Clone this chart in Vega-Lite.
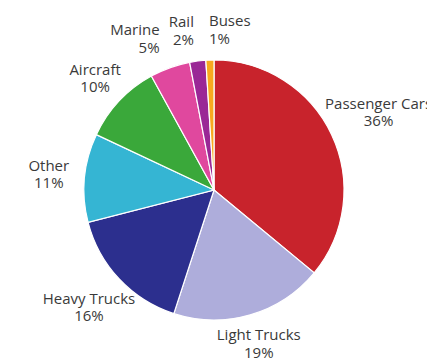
{
  "$schema": "https://vega.github.io/schema/vega-lite/v6.json",
  "width": 427,
  "height": 361,
  "autosize": {"type": "fit", "contains": "padding"},
  "padding": {"left": 6, "top": 19, "right": 0, "bottom": 0},
  "background": "white",
  "config": {"view": {"stroke": null}},
  "data": {
    "values": [
      {"category": "Passenger Cars", "value": 36},
      {"category": "Light Trucks", "value": 19},
      {"category": "Heavy Trucks", "value": 16},
      {"category": "Other", "value": 11},
      {"category": "Aircraft", "value": 10},
      {"category": "Marine", "value": 5},
      {"category": "Rail", "value": 2},
      {"category": "Buses", "value": 1}
    ]
  },
  "encoding": {
    "theta": {"field": "value", "type": "quantitative", "stack": true},
    "order": {"field": "value", "sort": "descending"}
  },
  "layer": [
    {
      "mark": {"type": "arc", "outerRadius": 130, "stroke": "white", "strokeWidth": 1.2},
      "encoding": {
        "color": {
          "field": "category",
          "type": "nominal",
          "scale": {
            "domain": ["Passenger Cars", "Light Trucks", "Heavy Trucks", "Other", "Aircraft", "Marine", "Rail", "Buses"],
            "range": ["#c8232c", "#aeaddb", "#2c2f8e", "#35b5d3", "#3aa83a", "#e0489e", "#9a2796", "#f8a91f"]
          },
          "legend": null
        }
      }
    },
    {
      "transform": [{"calculate": "datum.category + '\\n' + datum.value + '%'", "as": "label"}],
      "mark": {
        "type": "text",
        "radius": {"expr": "max(1/sqrt(pow(sin(PI*(datum.value_start+datum.value_end)/100)/166,2)+pow(cos(PI*(datum.value_start+datum.value_end)/100)/160,2)), 132 + 3.5*length(datum.category)*abs(sin(PI*(datum.value_start+datum.value_end)/100)) + 13*abs(cos(PI*(datum.value_start+datum.value_end)/100)))"},
        "align": {"expr": "datum.category === 'Buses' ? 'left' : (datum.category === 'Rail' || datum.category === 'Marine') ? 'right' : 'center'"},
        "baseline": "middle",
        "dy": -8.75,
        "lineBreak": "\n",
        "font": "Open Sans",
        "fontSize": 15,
        "lineHeight": 17.5,
        "fill": "#3a3a3a"
      },
      "encoding": {
        "text": {"field": "label"},
        "detail": {"field": "category"}
      }
    }
  ]
}
